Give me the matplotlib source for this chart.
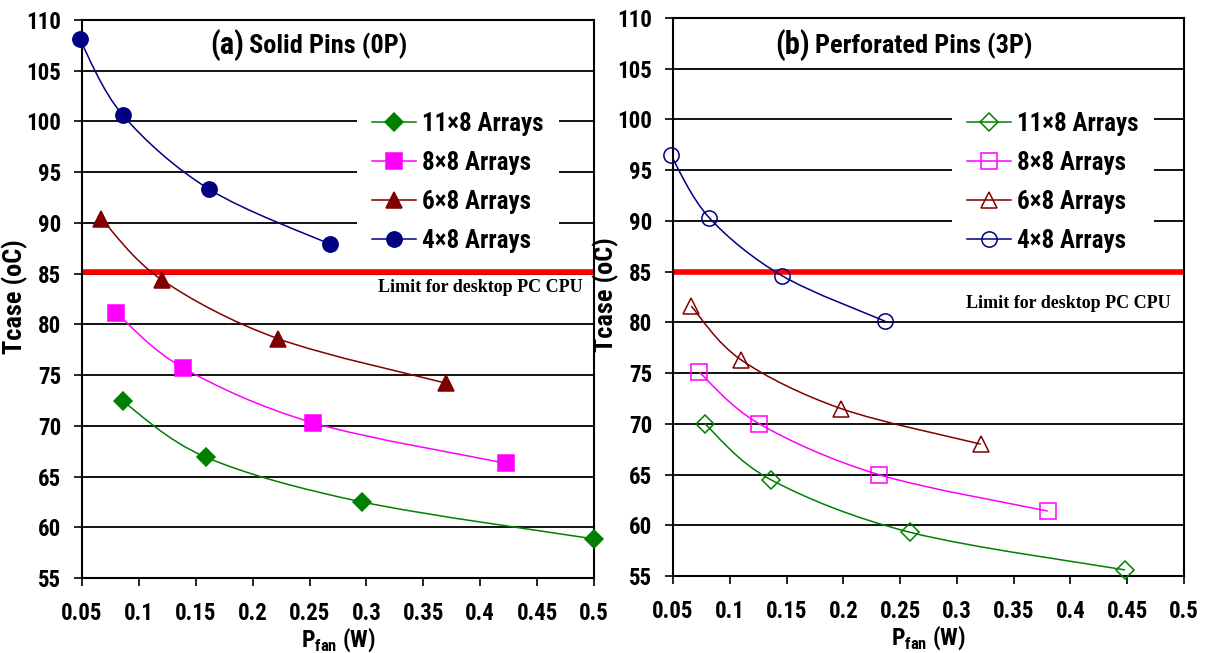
import matplotlib
matplotlib.use("Agg")
import matplotlib.pyplot as plt
from matplotlib.path import Path
from matplotlib.patches import PathPatch
from matplotlib.lines import Line2D
import numpy as np

# ---- data ----
series_labels = ["11\u00d78 Arrays", "8\u00d78 Arrays", "6\u00d78 Arrays", "4\u00d78 Arrays"]

# (a) solid pins
solid_11x8_x = [0.086, 0.159, 0.296, 0.500]
solid_11x8_y = [72.4, 66.9, 62.5, 58.85]
solid_8x8_x = [0.080, 0.139, 0.253, 0.423]
solid_8x8_y = [81.15, 75.7, 70.3, 66.3]
solid_6x8_x = [0.067, 0.120, 0.222, 0.370]
solid_6x8_y = [90.4, 84.4, 78.6, 74.2]
solid_4x8_x = [0.048, 0.086, 0.162, 0.268]
solid_4x8_y = [108.1, 100.6, 93.3, 87.9]

# (b) perforated pins
perf_11x8_x = [0.078, 0.136, 0.259, 0.448]
perf_11x8_y = [70.0, 64.5, 59.3, 55.6]
perf_8x8_x = [0.073, 0.126, 0.231, 0.380]
perf_8x8_y = [75.1, 70.0, 65.0, 61.4]
perf_6x8_x = [0.066, 0.110, 0.198, 0.321]
perf_6x8_y = [81.6, 76.3, 71.5, 68.0]
perf_4x8_x = [0.048, 0.082, 0.146, 0.237]
perf_4x8_y = [96.5, 90.3, 84.6, 80.1]

limit_solid = 85.2
limit_perf = 85.0
limit_text = "Limit for desktop PC CPU"

x_ticks = [0.05, 0.1, 0.15, 0.2, 0.25, 0.3, 0.35, 0.4, 0.45, 0.5]
y_ticks = [55, 60, 65, 70, 75, 80, 85, 90, 95, 100, 105, 110]

colors = ["#008000", "#FF00FF", "#800000", "#000080"]
markers = ["D", "s", "^", "o"]
msizes = [9.5, 11, 11.5, 11]

SANS = ["Roboto Condensed", "Liberation Sans", "DejaVu Sans"]
SERIF = ["Liberation Serif", "DejaVu Serif"]
plt.rcParams.update({
    "font.family": SANS,
    "font.weight": "bold",
    "mathtext.fontset": "custom",
    "mathtext.rm": "Roboto Condensed:bold",
    "mathtext.bf": "Roboto Condensed:bold",
})


def smooth_path(xs, ys):
    """Catmull-Rom curve through the points, as cubic bezier segments."""
    p = np.column_stack([xs, ys])
    verts = [p[0]]
    codes = [Path.MOVETO]
    n = len(p)
    for i in range(n - 1):
        p0 = p[max(i - 1, 0)]
        p1 = p[i]
        p2 = p[i + 1]
        p3 = p[min(i + 2, n - 1)]
        c1 = p1 + (p2 - p0) / 6.0
        c2 = p2 - (p3 - p1) / 6.0
        verts += [c1, c2, p2]
        codes += [Path.CURVE4] * 3
    return Path(verts, codes)


def draw_panel(ax, data, filled, limit, limit_pos, tag, tag_x, title_y, title,
               legend_center):
    ax.set_xlim(0.05, 0.5)
    ax.set_ylim(55, 110)
    ax.set_xticks(x_ticks)
    ax.set_xticklabels([f"{t:g}" for t in x_ticks])
    ax.set_yticks(y_ticks)
    ax.tick_params(direction="out", length=6, width=1.2, labelsize=16.5)
    ax.tick_params(axis="y", pad=9)
    ax.tick_params(axis="x", pad=11)
    for s in ax.spines.values():
        s.set_linewidth(1.5)
    ax.yaxis.grid(True, color="black", linewidth=1.3)
    ax.set_axisbelow(True)

    handles = []
    for (xs, ys), c, m, ms, lab in zip(data, colors, markers, msizes, series_labels):
        ax.add_patch(PathPatch(smooth_path(xs, ys), facecolor="none",
                               edgecolor=c, linewidth=1.1, zorder=3))
        face = c if filled else "none"
        ax.plot(xs, ys, linestyle="none", marker=m, markersize=ms,
                markerfacecolor=face, markeredgecolor=c,
                markeredgewidth=1.1, zorder=4, clip_on=False)
        handles.append(Line2D([], [], color=c, linewidth=1.1, marker=m,
                              markersize=ms, markerfacecolor=face,
                              markeredgecolor=c, markeredgewidth=1.1))

    ax.axhline(limit, color="#FF0000", linewidth=4, zorder=2)
    ax.text(limit_pos[0], limit_pos[1], limit_text, ha="right", va="center",
            family=SERIF, fontweight="bold", fontsize=13, zorder=5)

    ax.text(tag_x, title_y, tag, ha="right", va="center", fontsize=22,
            fontweight="bold", zorder=5)
    ax.text(tag_x + 0.004, title_y, title, ha="left", va="center",
            fontsize=19, fontweight="bold", zorder=5)

    leg = ax.legend(handles, series_labels, loc="center",
                    bbox_to_anchor=legend_center, frameon=True,
                    fontsize=18, handlelength=1.75, handletextpad=0.25,
                    labelspacing=0.6, borderpad=0.6)
    leg.get_frame().set_edgecolor("none")
    leg.get_frame().set_facecolor("white")
    leg.get_frame().set_alpha(1.0)
    leg.get_frame().set_boxstyle("square", pad=0)
    leg.set_zorder(6)

    ax.set_ylabel("Tcase (oC)", fontsize=19, fontweight="bold")
    ax.yaxis.set_label_coords(-0.105, 0.504)
    ax.set_xlabel("P$_{\\rm fan}$ (W)", fontsize=17, fontweight="bold")
    ax.xaxis.set_label_coords(0.5, -0.084)


fig = plt.figure(figsize=(12.12, 6.53), dpi=100)
ax1 = fig.add_axes([82 / 1212, 1 - 578 / 653, 512 / 1212, 558 / 653])
ax2 = fig.add_axes([673 / 1212, 1 - 576 / 653, 511 / 1212, 558 / 653])

draw_panel(ax1,
           [(solid_11x8_x, solid_11x8_y), (solid_8x8_x, solid_8x8_y),
            (solid_6x8_x, solid_6x8_y), (solid_4x8_x, solid_4x8_y)],
           True, limit_solid, (0.490, 83.6), "(a)", 0.193, 107.5,
           "Solid Pins (0P)", (0.734, 0.709))
draw_panel(ax2,
           [(perf_11x8_x, perf_11x8_y), (perf_8x8_x, perf_8x8_y),
            (perf_6x8_x, perf_6x8_y), (perf_4x8_x, perf_4x8_y)],
           False, limit_perf, (0.4886, 81.9), "(b)", 0.171, 107.3,
           "Perforated Pins (3P)", (0.744, 0.705))

fig.savefig("out.png", dpi=100)
